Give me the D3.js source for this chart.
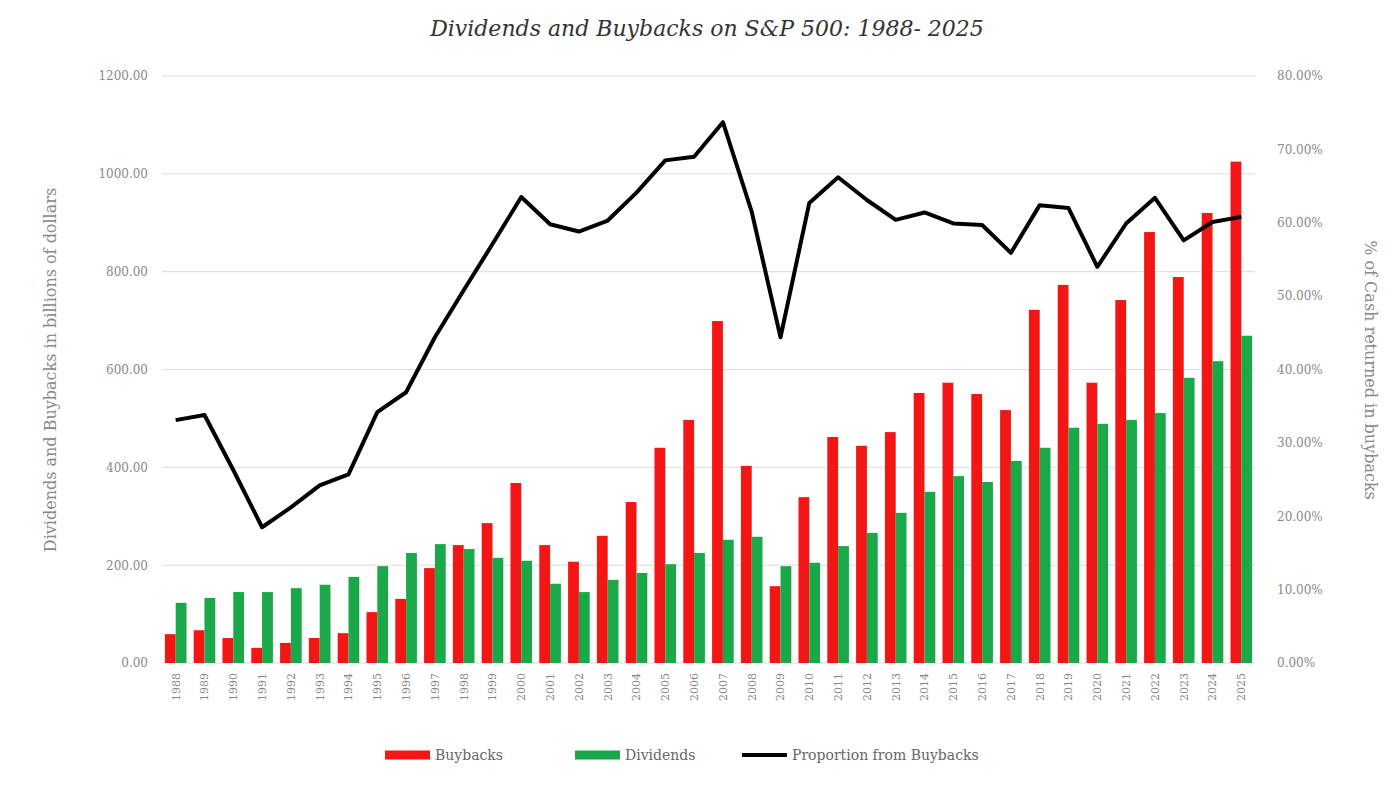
<!DOCTYPE html>
<html><head><meta charset="utf-8">
<script src="https://cdn.jsdelivr.net/npm/d3@7"></script>
<style>body{margin:0;background:#fff}text{font-family:"DejaVu Serif",serif}</style>
</head><body><svg id="c" width="1400" height="805"></svg>
<script>
const years=d3.range(1988,2026).map(String);
const buybacks=[59,67,51,31,41,51,61,104,131,194,241,286,368,241,207,260,329,440,497,699,403,157,339,462,444,472,552,573,550,517,722,773,573,742,881,789,920,1025];
const dividends=[123,133,145,145,153,160,176,198,225,243,233,215,209,162,145,170,184,202,225,252,258,198,205,239,266,307,350,382,370,413,440,481,489,497,511,583,617,669];
const proportion=[33.1,33.8,26.3,18.5,21.2,24.2,25.7,34.2,36.9,44.4,50.8,57.1,63.5,59.8,58.8,60.3,64.1,68.5,69.0,73.7,61.5,44.4,62.7,66.2,63.1,60.4,61.4,59.9,59.7,55.9,62.4,62.0,54.0,59.9,63.4,57.6,60.1,60.8];
const leftTicks=[0,200,400,600,800,1000,1200];
const rightTicks=[0,10,20,30,40,50,60,70,80];

const svg=d3.select("#c");
const L=162,R=1255,T=76,B=663;
const x=d3.scaleBand().domain(years).range([L,R]).paddingInner(0.25).paddingOuter(0.1);
const y=d3.scaleLinear().domain([0,1200]).range([B,T]);
const y2=d3.scaleLinear().domain([0,80]).range([B,T]);

svg.append("g").selectAll("line").data(leftTicks).join("line")
 .attr("x1",L).attr("x2",R).attr("y1",d=>y(d)).attr("y2",d=>y(d)).attr("stroke","#dcdcdc");

const gl=svg.append("g").attr("transform",`translate(${L},0)`).call(d3.axisLeft(y).tickValues(leftTicks).tickFormat(d3.format(".2f")).tickSize(0).tickPadding(14));
const gr=svg.append("g").attr("transform",`translate(${R},0)`).call(d3.axisRight(y2).tickValues(rightTicks).tickFormat(d=>d.toFixed(2)+"%").tickSize(0).tickPadding(22));
const gx=svg.append("g").attr("transform",`translate(0,${B})`).call(d3.axisBottom(x).tickSize(0));
gx.selectAll("text").attr("transform","rotate(-90)").attr("x",-10).attr("y",0).attr("dy","0.35em").style("text-anchor","end");
[gl,gr,gx].forEach(g=>{g.select(".domain").remove();g.selectAll("text").attr("fill","#888").style("font-size","12px").style("font-family","DejaVu Serif");});
gx.selectAll("text").style("font-size","11px");

const bw=x.bandwidth()/2;
svg.append("g").selectAll("rect").data(years).join("rect")
 .attr("x",d=>x(d)).attr("width",bw).attr("y",(d,i)=>y(buybacks[i])).attr("height",(d,i)=>B-y(buybacks[i])).attr("fill","#f41515");
svg.append("g").selectAll("rect").data(years).join("rect")
 .attr("x",d=>x(d)+bw).attr("width",bw).attr("y",(d,i)=>y(dividends[i])).attr("height",(d,i)=>B-y(dividends[i])).attr("fill","#1aa84a");

svg.append("path").datum(proportion).attr("fill","none").attr("stroke","#000").attr("stroke-width",4).attr("stroke-linejoin","round")
 .attr("d",d3.line().x((d,i)=>x(years[i])+x.bandwidth()/2).y(d=>y2(d)));

svg.append("text").attr("x",707).attr("y",36).attr("text-anchor","middle").style("font-size","22px").style("font-style","italic").attr("fill","#333").text("Dividends and Buybacks on S&P 500: 1988- 2025");
svg.append("text").attr("transform","translate(56,370) rotate(-90)").attr("text-anchor","middle").style("font-size","16px").attr("fill","#888").text("Dividends and Buybacks in billions of dollars");
svg.append("text").attr("transform","translate(1365,370) rotate(90)").attr("text-anchor","middle").style("font-size","16px").attr("fill","#888").text("% of Cash returned in buybacks");

const leg=[["Buybacks","#f41515",385],["Dividends","#1aa84a",575],["Proportion from Buybacks","#000",742]];
leg.forEach(([t,c,lx])=>{
 svg.append("line").attr("x1",lx).attr("x2",lx+45).attr("y1",755).attr("y2",755).attr("stroke",c).attr("stroke-width",t.startsWith("Prop")?4:9);
 svg.append("text").attr("x",lx+50).attr("y",760).style("font-size","14px").attr("fill","#666").text(t);
});
</script></body></html>
